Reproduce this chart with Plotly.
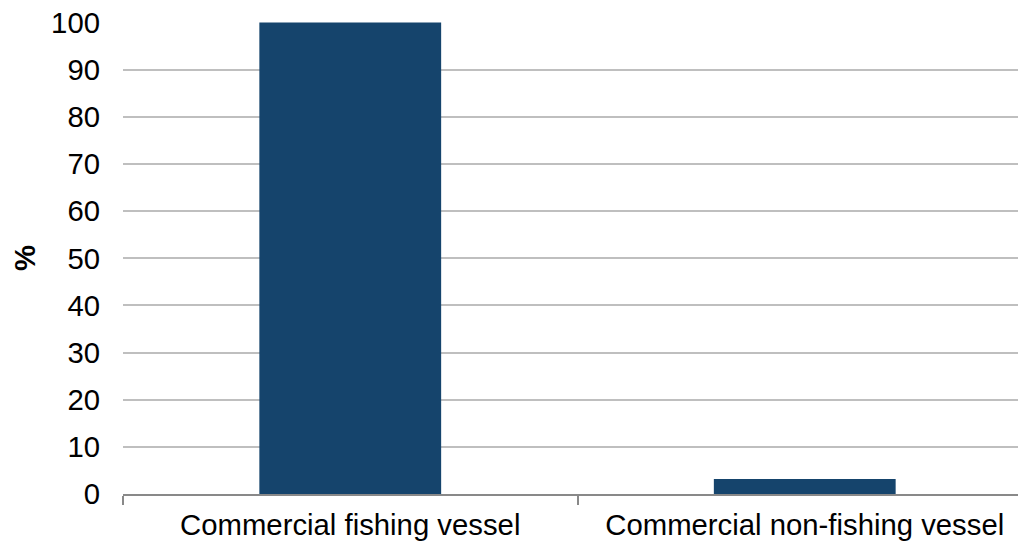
import plotly.graph_objects as go

categories = ["Commercial fishing vessel", "Commercial non-fishing vessel"]
values = [100, 3.2]
y_ticks = list(range(0, 101, 10))
y_title = "%"

FS = 29.3
fig = go.Figure(go.Bar(x=categories, y=values, marker=dict(color="#15446c", line=dict(width=0)), width=0.4))

fig.update_layout(
    width=1026, height=534,
    margin=dict(l=115, r=2, t=14, b=48),
    paper_bgcolor="white", plot_bgcolor="white",
    font=dict(family="Liberation Sans, Arial, sans-serif", size=FS, color="#000000"),
    showlegend=False,
)
fig.update_xaxes(
    showline=True, linecolor="#898989", linewidth=2,
    ticks="outside", tickson="boundaries", ticklen=9, tickcolor="#898989", tickwidth=2,
    showgrid=False, tickfont=dict(size=FS), automargin=False, ticklabelstandoff=4,
)
fig.update_yaxes(
    range=[0, 100.1], tickvals=y_ticks, showgrid=True, gridcolor="#bfbfbf", gridwidth=2,
    showline=False, zeroline=False, ticks="", ticklabelstandoff=22, automargin=False,
    ticklabeloverflow="allow",
)
fig.add_annotation(
    text="<b>" + y_title + "</b>", xref="paper", yref="paper", x=0, y=0.5,
    xanchor="center", yanchor="middle", xshift=-99, textangle=-90, showarrow=False,
    font=dict(size=FS),
)

fig.write_html("out.html")
